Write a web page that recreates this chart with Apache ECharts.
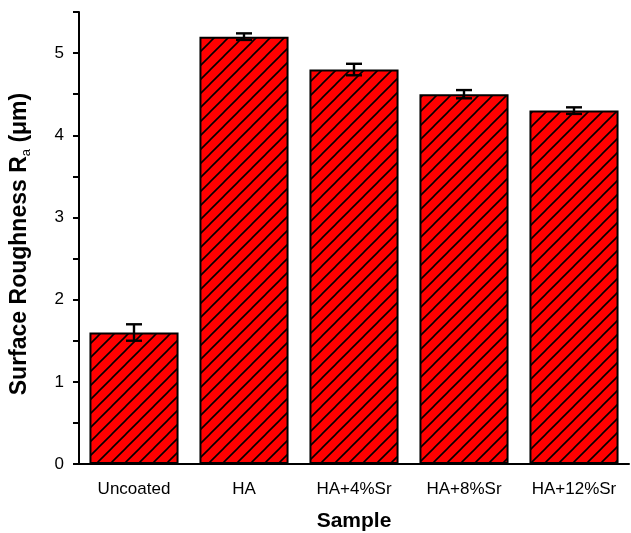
<!DOCTYPE html>
<html><head><meta charset="utf-8">
<script src="https://cdn.jsdelivr.net/npm/echarts@6/dist/echarts.min.js"></script>
<style>html,body{margin:0;padding:0;background:#fff}#c{width:631px;height:533px}</style>
</head><body><div id="c"></div>
<script>
const categories = ['Uncoated', 'HA', 'HA+4%Sr', 'HA+8%Sr', 'HA+12%Sr'];
const values = [1.6, 5.2, 4.8, 4.5, 4.3];
const errors = [0.1, 0.04, 0.07, 0.05, 0.04];
const yTickLabels = ['0', '1', '2', '3', '4', '5'];

function hatch() {
  const s = 14;
  const c = document.createElement('canvas');
  c.width = s; c.height = s;
  const g = c.getContext('2d');
  g.fillStyle = '#ff0000';
  g.fillRect(0, 0, s, s);
  g.strokeStyle = '#000';
  g.lineWidth = 1.6;
  g.beginPath();
  g.moveTo(0, s); g.lineTo(s, 0);
  g.moveTo(-2, 2); g.lineTo(2, -2);
  g.moveTo(s - 2, s + 2); g.lineTo(s + 2, s - 2);
  g.stroke();
  return c;
}

const font = 'Liberation Sans, Arial, sans-serif';
const chart = echarts.init(document.getElementById('c'));
chart.setOption({
  animation: false,
  grid: { left: 79, right: 2, top: 12, bottom: 69, containLabel: false, outerBoundsMode: 'none' },
  xAxis: [{
    type: 'category', data: categories,
    name: 'Sample', nameLocation: 'middle', nameGap: 47,
    nameTextStyle: { fontFamily: font, fontWeight: 'bold', fontSize: 21, color: '#000' },
    axisLine: { lineStyle: { color: '#000', width: 2 } },
    axisTick: { alignWithLabel: true, length: 9, lineStyle: { color: '#000', width: 2 } },
    axisLabel: { interval: 0, fontFamily: font, fontSize: 17, color: '#000', margin: 17 }
  }, {
    type: 'category', data: categories, position: 'bottom',
    axisLine: { show: false },
    axisTick: { length: 5, lineStyle: { color: '#000', width: 2 } },
    axisLabel: { show: false }
  }],
  yAxis: {
    type: 'value', min: 0, max: 5.5, interval: 0.5,
    name: '{b|Surface Roughness R}{s|a}{b| (μm)}',
    nameLocation: 'middle', nameGap: 46,
    nameTextStyle: {
      padding: [0, 12, 0, 0],
      rich: {
        b: { fontFamily: font, fontWeight: 'bold', fontSize: 23, color: '#000', lineHeight: 27, verticalAlign: 'middle' },
        s: { fontFamily: font, fontSize: 13, color: '#000', lineHeight: 13, verticalAlign: 'bottom' }
      }
    },
    splitLine: { show: false },
    axisLine: { show: true, lineStyle: { color: '#000', width: 2 } },
    axisTick: { show: true, length: 6, lineStyle: { color: '#000', width: 2 } },
    axisLabel: {
      fontFamily: font, fontSize: 17, color: '#000', margin: 15,
      formatter: v => { const i = yTickLabels.indexOf(String(v)); return i >= 0 ? yTickLabels[i] : ''; }
    }
  },
  series: [{
    type: 'bar', data: values, barCategoryGap: '19%',
    itemStyle: { color: { image: hatch(), repeat: 'repeat' }, borderColor: '#000', borderWidth: 2 }
  }, {
    type: 'custom',
    data: values.map((v, i) => [i, v - errors[i], v + errors[i]]),
    renderItem: (params, api) => {
      const lo = api.coord([api.value(0), api.value(1)]);
      const hi = api.coord([api.value(0), api.value(2)]);
      const w = 8;
      const st = { stroke: '#000', lineWidth: 2.4 };
      return { type: 'group', children: [
        { type: 'line', shape: { x1: lo[0], y1: lo[1], x2: hi[0], y2: hi[1] }, style: st },
        { type: 'line', shape: { x1: lo[0] - w, y1: lo[1], x2: lo[0] + w, y2: lo[1] }, style: st },
        { type: 'line', shape: { x1: hi[0] - w, y1: hi[1], x2: hi[0] + w, y2: hi[1] }, style: st }
      ]};
    },
    z: 10
  }]
});
</script></body></html>
